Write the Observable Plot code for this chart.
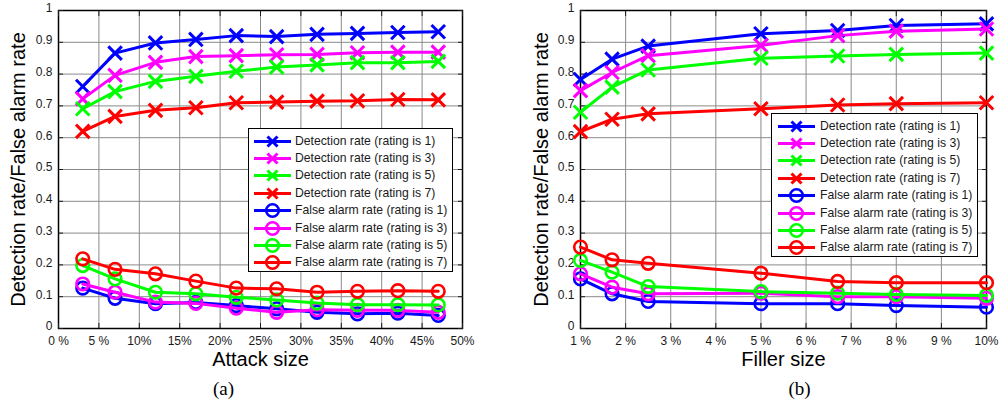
<!DOCTYPE html>
<html><head><meta charset="utf-8">
<script src="https://cdn.jsdelivr.net/npm/d3@7"></script>
<script src="https://cdn.jsdelivr.net/npm/@observablehq/plot@0.6"></script>
<style>
body{margin:0;background:#fff;}
#wrap{position:relative;width:999px;height:400px;overflow:hidden;background:#fff;font-family:"Liberation Sans",Arial,sans-serif;}
.plot{position:absolute;top:0;}
.legend{position:absolute;border:1px solid #000;background:#fff;box-sizing:border-box;}
.row{position:absolute;left:0;height:17px;font-size:12.2px;white-space:nowrap;color:#1a1a1a;}
.row svg{position:absolute;top:0;}
.row span{position:absolute;top:0px;line-height:17px;}
</style></head><body><div id="wrap"></div>
<script>
// ---------- data ----------
const seriesNames = [
  "Detection rate (rating is 1)", "Detection rate (rating is 3)",
  "Detection rate (rating is 5)", "Detection rate (rating is 7)",
  "False alarm rate (rating is 1)", "False alarm rate (rating is 3)",
  "False alarm rate (rating is 5)", "False alarm rate (rating is 7)"
];
const seriesColors = ["#0000ff", "#ff00ff", "#00ff00", "#ff0000", "#0000ff", "#ff00ff", "#00ff00", "#ff0000"];
const seriesSymbols = ["times", "times", "times", "times", "circle", "circle", "circle", "circle"];

const yTicks = [0, 0.1, 0.2, 0.3, 0.4, 0.5, 0.6, 0.7, 0.8, 0.9, 1];
const yTickLabels = ["0", "0.1", "0.2", "0.3", "0.4", "0.5", "0.6", "0.7", "0.8", "0.9", "1"];
const yLabel = "Detection rate/False alarm rate";

// (a) Attack size
const attackSize = [3, 7, 12, 17, 22, 27, 32, 37, 42, 47];
const attackDet1 = [0.761, 0.866, 0.898, 0.909, 0.921, 0.918, 0.925, 0.928, 0.931, 0.933];
const attackDet3 = [0.722, 0.796, 0.837, 0.855, 0.858, 0.861, 0.862, 0.867, 0.869, 0.869];
const attackDet5 = [0.691, 0.745, 0.777, 0.793, 0.809, 0.822, 0.829, 0.836, 0.836, 0.840];
const attackDet7 = [0.620, 0.667, 0.686, 0.694, 0.710, 0.712, 0.715, 0.716, 0.720, 0.719];
const attackFa1 = [0.127, 0.095, 0.078, 0.082, 0.072, 0.062, 0.051, 0.046, 0.048, 0.041];
const attackFa3 = [0.140, 0.114, 0.083, 0.079, 0.064, 0.051, 0.059, 0.057, 0.057, 0.051];
const attackFa5 = [0.198, 0.156, 0.114, 0.109, 0.098, 0.090, 0.080, 0.075, 0.075, 0.074];
const attackFa7 = [0.219, 0.186, 0.172, 0.149, 0.127, 0.125, 0.114, 0.117, 0.119, 0.117];
const attackTicks = [0, 5, 10, 15, 20, 25, 30, 35, 40, 45, 50];
const attackTickLabels = ["0 %", "5 %", "10%", "15%", "20%", "25%", "30%", "35%", "40%", "45%", "50%"];

// (b) Filler size
const fillerSize = [1, 1.7, 2.5, 5, 6.7, 8, 10];
const fillerDet1 = [0.783, 0.847, 0.888, 0.927, 0.937, 0.953, 0.958];
const fillerDet3 = [0.748, 0.805, 0.858, 0.890, 0.921, 0.935, 0.942];
const fillerDet5 = [0.680, 0.759, 0.813, 0.850, 0.857, 0.862, 0.866];
const fillerDet7 = [0.619, 0.658, 0.675, 0.691, 0.703, 0.707, 0.710];
const fillerFa1 = [0.156, 0.109, 0.085, 0.078, 0.078, 0.072, 0.067];
const fillerFa3 = [0.172, 0.130, 0.109, 0.111, 0.100, 0.100, 0.095];
const fillerFa5 = [0.214, 0.177, 0.132, 0.116, 0.111, 0.107, 0.104];
const fillerFa7 = [0.256, 0.216, 0.205, 0.174, 0.148, 0.144, 0.144];
const fillerTicks = [1, 2, 3, 4, 5, 6, 7, 8, 9, 10];
const fillerTickLabels = ["1 %", "2 %", "3 %", "4 %", "5 %", "6 %", "7 %", "8 %", "9 %", "10%"];

// ---------- drawing ----------
const wrap = document.getElementById("wrap");

function makeChart(cfg) {
  const marks = [
    Plot.gridX({ticks: cfg.xTicks, stroke: "#8a8a8a", strokeOpacity: 1, strokeWidth: 1}),
    Plot.gridY({ticks: yTicks, stroke: "#8a8a8a", strokeOpacity: 1, strokeWidth: 1}),
    Plot.frame({stroke: "#000", strokeWidth: 1.5}),
    // inner ticks on all four sides
    Plot.axisX({anchor: "bottom", ticks: cfg.xTicks, tickSize: -5, tickFormat: () => "", label: null}),
    Plot.axisX({anchor: "top", ticks: cfg.xTicks, tickSize: -5, tickFormat: () => "", label: null}),
    Plot.axisY({anchor: "left", ticks: yTicks, tickSize: -5, tickFormat: () => "", label: null}),
    Plot.axisY({anchor: "right", ticks: yTicks, tickSize: -5, tickFormat: () => "", label: null}),
    // tick labels
    Plot.axisX({anchor: "bottom", ticks: cfg.xTicks, tickSize: 0, tickPadding: 8, fontSize: 12,
      tickFormat: d => cfg.xTickLabels[cfg.xTicks.indexOf(d)], label: null}),
    Plot.axisY({anchor: "left", ticks: yTicks, tickSize: 0, tickPadding: cfg.yPad, fontSize: 12, dy: -2,
      tickFormat: d => yTickLabels[yTicks.indexOf(d)], label: null})
  ];
  cfg.series.forEach((vals, i) => {
    const data = cfg.xs.map((x, j) => ({x, y: vals[j]}));
    marks.push(Plot.line(data, {x: "x", y: "y", stroke: seriesColors[i], strokeWidth: 3}));
    if (seriesSymbols[i] === "times") {
      marks.push(Plot.dot(data, {x: "x", y: "y", stroke: seriesColors[i], symbol: "times", r: 6.2, strokeWidth: 3}));
    } else {
      marks.push(Plot.dot(data, {x: "x", y: "y", stroke: seriesColors[i], fill: "none", symbol: "circle", r: 6.3, strokeWidth: 2.6}));
    }
  });
  marks.push(Plot.text([yLabel], {text: d => d, frameAnchor: "left", textAnchor: "middle", lineAnchor: "middle", rotate: -90, dx: cfg.yLabelDx, fontSize: 20, fill: "#000"}));
  marks.push(Plot.text([cfg.xLabel], {text: d => d, frameAnchor: "bottom", dy: 31, lineAnchor: "middle", fontSize: 20, fill: "#000"}));
  marks.push(Plot.text([cfg.caption], {text: d => d, frameAnchor: "bottom", dx: cfg.captionDx, dy: 60, lineAnchor: "middle", fontSize: 19, fill: "#000", fontFamily: "Liberation Serif, Times New Roman, serif"}));

  const svg = Plot.plot({
    width: cfg.width, height: 400,
    marginLeft: cfg.marginLeft, marginRight: cfg.marginRight, marginTop: 10, marginBottom: 72,
    x: {domain: cfg.xDomain, label: null},
    y: {domain: [0, 1], label: null},
    style: {fontFamily: "Liberation Sans, Arial, sans-serif", fontSize: "12px", color: "#1a1a1a", background: "transparent", overflow: "visible"},
    marks
  });
  svg.classList.add("plot");
  svg.style.left = cfg.left + "px";
  wrap.appendChild(svg);
}

function makeLegend(box) {
  const lg = document.createElement("div");
  lg.className = "legend";
  Object.assign(lg.style, {left: box.left + "px", top: box.top + "px", width: box.width + "px", height: box.height + "px"});
  seriesNames.forEach((name, i) => {
    const row = document.createElement("div");
    row.className = "row";
    row.style.top = (box.firstCenter - 8.5 + i * box.step) + "px";
    row.style.width = box.width + "px";
    const c = seriesColors[i];
    const mk = seriesSymbols[i] === "times"
      ? `<path d="M13.5,3.5L23.5,13.5M13.5,13.5L23.5,3.5" stroke="${c}" stroke-width="3" fill="none"/>`
      : `<circle cx="18.5" cy="8.5" r="6.3" stroke="${c}" stroke-width="2.6" fill="none"/>`;
    row.innerHTML = `<svg width="37" height="17" style="left:${box.lineLeft}px;overflow:visible"><line x1="0" x2="37" y1="8.5" y2="8.5" stroke="${c}" stroke-width="3"/>${mk}</svg><span style="left:${box.textLeft}px">${name}</span>`;
    lg.appendChild(row);
  });
  wrap.appendChild(lg);
}

makeChart({
  left: 0, width: 490, marginLeft: 58, marginRight: 28, yPad: 6, yLabelDx: -40,
  xs: attackSize, xDomain: [0, 50], xTicks: attackTicks, xTickLabels: attackTickLabels,
  series: [attackDet1, attackDet3, attackDet5, attackDet7, attackFa1, attackFa3, attackFa5, attackFa7],
  xLabel: "Attack size", caption: "(a)", captionDx: -37
});
makeChart({
  left: 500, width: 499, marginLeft: 80, marginRight: 13, yPad: 6, yLabelDx: -39,
  xs: fillerSize, xDomain: [1, 10], xTicks: fillerTicks, xTickLabels: fillerTickLabels,
  series: [fillerDet1, fillerDet3, fillerDet5, fillerDet7, fillerFa1, fillerFa3, fillerFa5, fillerFa7],
  xLabel: "Filler size", caption: "(b)", captionDx: 16
});
makeLegend({left: 248, top: 128, width: 205, height: 144, firstCenter: 12, step: 17.4, lineLeft: 5, textLeft: 46});
makeLegend({left: 771, top: 113, width: 207, height: 144, firstCenter: 12, step: 17.4, lineLeft: 6, textLeft: 48});
</script></body></html>
